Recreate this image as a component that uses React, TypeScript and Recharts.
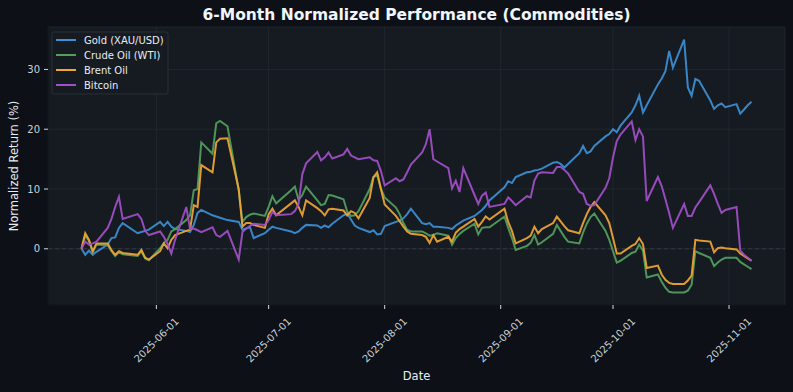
import React from 'react';
import { LineChart, Line, XAxis, YAxis, CartesianGrid, ReferenceLine } from 'recharts';

const dates = [
  '2025-05-12','2025-05-13','2025-05-14','2025-05-15','2025-05-16','2025-05-19','2025-05-20','2025-05-21','2025-05-22','2025-05-23','2025-05-27','2025-05-28','2025-05-29','2025-05-30',
  '2025-06-02','2025-06-03','2025-06-04','2025-06-05','2025-06-06','2025-06-09','2025-06-10','2025-06-11','2025-06-12','2025-06-13','2025-06-16','2025-06-17','2025-06-18','2025-06-20','2025-06-23','2025-06-24','2025-06-25','2025-06-26','2025-06-27','2025-06-30',
  '2025-07-01','2025-07-02','2025-07-03','2025-07-07','2025-07-08','2025-07-09','2025-07-10','2025-07-11','2025-07-14','2025-07-15','2025-07-16','2025-07-17','2025-07-18','2025-07-21','2025-07-22','2025-07-23','2025-07-24','2025-07-25','2025-07-28','2025-07-29','2025-07-30','2025-07-31',
  '2025-08-01','2025-08-04','2025-08-05','2025-08-06','2025-08-07','2025-08-08','2025-08-11','2025-08-12','2025-08-13','2025-08-14','2025-08-15','2025-08-18','2025-08-19','2025-08-20','2025-08-21','2025-08-22','2025-08-25','2025-08-26','2025-08-27','2025-08-28','2025-08-29',
  '2025-09-02','2025-09-03','2025-09-04','2025-09-05','2025-09-08','2025-09-09','2025-09-10','2025-09-11','2025-09-12','2025-09-15','2025-09-16','2025-09-17','2025-09-18','2025-09-19','2025-09-22','2025-09-23','2025-09-24','2025-09-25','2025-09-26','2025-09-29','2025-09-30',
  '2025-10-01','2025-10-02','2025-10-03','2025-10-06','2025-10-07','2025-10-08','2025-10-09','2025-10-10','2025-10-13','2025-10-14','2025-10-15','2025-10-16','2025-10-17','2025-10-20','2025-10-21','2025-10-22','2025-10-23','2025-10-24','2025-10-27','2025-10-28','2025-10-29','2025-10-30','2025-10-31',
  '2025-11-03','2025-11-04','2025-11-05','2025-11-06','2025-11-07',
];

const gold = [
  0.0, -1.0, -0.3, -1.0, -0.5, 0.7, 1.8, 1.9, 3.5, 4.3, 2.6, 2.8, 3.0, 3.2,
  4.5, 3.8, 4.5, 3.7, 3.3, 3.0, 2.8, 4.0, 6.0, 6.5, 5.6, 5.4, 5.2, 4.8, 4.5, 3.2, 3.4, 3.6, 1.8, 2.6,
  3.2, 3.7, 3.5, 2.9, 2.6, 2.9, 3.5, 4.0, 3.9, 3.5, 3.9, 3.6, 4.2, 5.6, 5.9, 4.9, 3.9, 3.5, 2.8, 3.1, 2.4, 2.5,
  3.8, 4.5, 4.7, 5.1, 5.8, 6.7, 4.3, 4.1, 4.3, 3.7, 3.7, 3.5, 3.3, 3.9, 4.3, 4.7, 5.5, 6.0, 6.5, 7.2, 8.1,
  10.3, 11.3, 11.0, 12.0, 12.8, 12.9, 13.1, 13.2, 13.4, 14.4, 14.5, 14.2, 13.6, 14.2, 16.0, 17.2, 16.0, 16.3, 17.2, 18.8, 19.2,
  20.0, 19.5, 20.6, 22.8, 24.0, 25.6, 22.8, 24.0, 27.5, 28.5, 29.7, 33.1, 30.3, 35.0, 27.0, 25.6, 28.4, 28.1, 24.8, 23.4, 24.0, 24.3, 23.7,
  24.2, 22.6, 23.3, 24.0, 24.6,
];

const crude = [
  0.0, 2.2, 1.3, -0.6, 0.7, 0.6, -0.4, -1.2, -0.6, -0.9, -1.2, -0.4, -1.6, -1.9,
  0.1, 1.0, 1.5, 2.9, 3.3, 4.8, 5.6, 9.8, 10.0, 17.8, 15.9, 21.0, 21.4, 20.5, 9.8, 4.5, 5.3, 5.7, 5.9, 5.5,
  7.0, 8.8, 7.6, 9.8, 10.4, 8.2, 9.0, 10.4, 8.1, 7.3, 7.5, 9.0, 8.9, 8.3, 6.2, 5.5, 5.6, 6.3, 10.0, 12.0, 12.3, 10.0,
  8.6, 6.9, 5.8, 4.3, 3.2, 2.9, 2.9, 2.6, 2.2, 2.3, 2.6, 2.2, 0.7, 1.8, 2.5, 3.0, 4.2, 2.4, 3.5, 3.6, 3.6,
  5.4, 3.5, 1.8, -0.2, 0.5, 1.0, 2.3, 0.7, 1.1, 2.5, 4.0, 3.0, 2.0, 1.2, 0.9, 2.7, 4.2, 5.3, 5.9, 3.0, 1.5,
  -0.4, -2.3, -2.0, -0.7, -0.5, 0.7, -0.3, -4.8, -4.3, -5.5, -6.5, -7.2, -7.3, -7.3, -7.0, -6.0, -0.4, -0.7, -1.5, -2.9, -2.3, -1.8, -1.5,
  -1.5, -2.2, -2.6, -3.0, -3.4,
];

const brent = [
  0.0, 2.6, 1.5, -0.4, 0.9, 0.9, -0.2, -1.0, -0.4, -0.7, -1.0, -0.2, -1.5, -1.8,
  -0.4, 0.9, 0.1, 1.5, 2.3, 3.0, 3.2, 7.3, 7.0, 14.0, 12.8, 17.8, 18.4, 18.5, 10.0, 3.7, 4.3, 4.3, 4.0, 3.5,
  5.8, 6.7, 5.6, 7.6, 8.1, 7.0, 5.6, 8.1, 6.8, 6.3, 5.6, 6.6, 6.7, 6.4, 5.6, 6.3, 6.0, 5.1, 8.5, 12.0, 12.8, 10.0,
  7.4, 5.5, 4.6, 3.7, 2.9, 2.5, 2.3, 2.0, 1.0, 2.3, 1.2, 2.0, 1.2, 2.7, 3.3, 3.7, 5.0, 3.7, 4.5, 5.4, 4.9,
  6.7, 4.5, 3.0, 0.9, 1.8, 2.2, 3.7, 2.6, 3.3, 4.3, 5.4, 4.6, 3.8, 3.1, 2.6, 4.3, 5.8, 7.0, 7.8, 5.6, 4.3,
  1.8, -0.8, -0.8, 0.5, 0.8, 1.8, 0.8, -3.2, -2.8, -4.3, -5.2, -5.7, -5.9, -5.9, -5.3, -4.5, 1.5, 1.4, 1.2, -0.6, 0.1, 0.2, 0.1,
  -0.1, -0.8, -1.2, -1.6, -2.0,
];

const bitcoin = [
  0.0, 1.2, 0.7, 0.9, 1.2, 3.5, 5.0, 7.0, 8.7, 5.0, 5.8, 5.0, 3.0, 2.3,
  2.9, 2.0, 0.8, -0.8, 1.5, 7.0, 3.3, 3.4, 3.1, 2.8, 3.6, 2.3, 2.0, 3.0, -1.8, 2.8, 3.4, 3.8, 4.2, 4.0,
  4.8, 6.2, 5.6, 5.8, 6.3, 7.5, 12.5, 14.3, 16.2, 14.8, 15.3, 16.1, 15.1, 15.8, 16.7, 15.6, 15.3, 15.0, 15.3, 14.8, 14.7, 13.0,
  10.6, 11.8, 11.3, 11.6, 12.8, 14.1, 16.1, 17.5, 20.0, 15.0, 14.6, 13.5, 10.1, 11.4, 9.5, 13.5, 9.0, 7.5, 8.9, 9.4, 7.0,
  7.5, 8.6, 8.0, 7.3, 8.8, 8.6, 11.4, 12.6, 12.8, 12.7, 13.7, 13.7, 13.2, 12.6, 9.5, 9.2, 7.5, 7.2, 7.3, 10.2, 11.8,
  15.3, 18.0, 19.1, 21.3, 18.2, 20.0, 18.8, 8.0, 12.0, 10.5, 8.3, 6.0, 3.5, 7.5, 5.5, 5.5, 6.9, 7.8, 10.6, 9.2, 7.5, 6.0, 6.5,
  7.0, -0.3, -1.0, -1.5, -2.0,
];

const seriesNames = ['Gold (XAU/USD)', 'Crude Oil (WTI)', 'Brent Oil', 'Bitcoin'];
const seriesKeys = ['gold', 'crude', 'brent', 'bitcoin'];
const seriesColors = ['#3d8fd6', '#52a05e', '#f0a535', '#a24fc8'];

const xTickLabels = ['2025-06-01', '2025-07-01', '2025-08-01', '2025-09-01', '2025-10-01', '2025-11-01'];
const yTicks = [0, 10, 20, 30];

const ORIGIN = Date.UTC(2025, 5, 1);
const dayNum = (s: string) => {
  const [y, m, d] = s.split('-').map(Number);
  return (Date.UTC(y, m - 1, d) - ORIGIN) / 86400000;
};

const data = dates.map((d, i) => ({
  t: dayNum(d),
  gold: gold[i],
  crude: crude[i],
  brent: brent[i],
  bitcoin: bitcoin[i],
}));

const xTicks = xTickLabels.map(dayNum);
const FONT = '"DejaVu Sans", sans-serif';
const TXT = '#c9d1d9';

const XTick = (props: any) => {
  const { x, payload } = props;
  const idx = xTicks.indexOf(payload.value);
  const label = idx >= 0 ? xTickLabels[idx] : '';
  const cy = 340;
  return (
    <text
      x={x}
      y={cy}
      transform={`rotate(-45, ${x}, ${cy})`}
      textAnchor="middle"
      dominantBaseline="central"
      fill={TXT}
      fontSize={10}
      fontFamily={FONT}
    >
      {label}
    </text>
  );
};

export default function App() {
  return (
    <div style={{ position: 'relative', width: 793, height: 392, background: '#0d1117' }}>
      <style>{'body{margin:0;background:#0d1117;}'}</style>
      <LineChart
        width={793}
        height={392}
        data={data}
        margin={{ top: 27, right: 8, left: 0, bottom: 0 }}
      >
        <CartesianGrid fill="#161b22" stroke="#242a31" strokeWidth={0.8} />
        <XAxis
          dataKey="t"
          type="number"
          domain={[-28.95, 167.95]}
          ticks={xTicks}
          height={87}
          tick={<XTick />}
          tickSize={4}
          tickLine={{ stroke: '#d0d7de' }}
          axisLine={{ stroke: '#0d1117' }}
          allowDataOverflow
        />
        <YAxis
          type="number"
          domain={[-9.4, 37.1]}
          ticks={yTicks}
          width={48}
          tickSize={4}
          tickMargin={4}
          tickLine={{ stroke: '#d0d7de' }}
          axisLine={{ stroke: '#0d1117' }}
          tick={{ fill: TXT, fontSize: 10, fontFamily: FONT }}
          allowDataOverflow
        />
        <ReferenceLine y={0} stroke="#3a4048" strokeDasharray="4 3" strokeWidth={0.8} />
        {seriesKeys.map((k, i) => (
          <Line
            key={k}
            type="linear"
            dataKey={k}
            stroke={seriesColors[i]}
            strokeWidth={2}
            strokeOpacity={0.92}
            dot={false}
            isAnimationActive={false}
          />
        ))}
      </LineChart>
      <svg
        width={793}
        height={392}
        style={{ position: 'absolute', left: 0, top: 0, pointerEvents: 'none' }}
      >
        <text x={416.5} y={15} textAnchor="middle" dominantBaseline="central" fill="#f0f6fc" fontSize={15.5} fontWeight="bold" fontFamily={FONT}>
          6-Month Normalized Performance (Commodities)
        </text>
        <text x={14} y={166} transform="rotate(-90, 14, 166)" textAnchor="middle" dominantBaseline="central" fill="#e6edf3" fontSize={11.5} fontFamily={FONT}>
          Normalized Return (%)
        </text>
        <text x={416.5} y={376} textAnchor="middle" dominantBaseline="central" fill="#e6edf3" fontSize={11.5} fontFamily={FONT}>
          Date
        </text>
        <rect x={52} y={32} width={116} height={62} rx={2} fill="#161b22" stroke="#30363d" strokeWidth={0.8} />
        {seriesNames.map((n, i) => (
          <g key={n}>
            <line x1={56} x2={76} y1={40 + i * 15} y2={40 + i * 15} stroke={seriesColors[i]} strokeWidth={2} />
            <text x={84} y={40 + i * 15} dominantBaseline="central" fill="#e6edf3" fontSize={10} fontFamily={FONT}>
              {n}
            </text>
          </g>
        ))}
      </svg>
    </div>
  );
}
